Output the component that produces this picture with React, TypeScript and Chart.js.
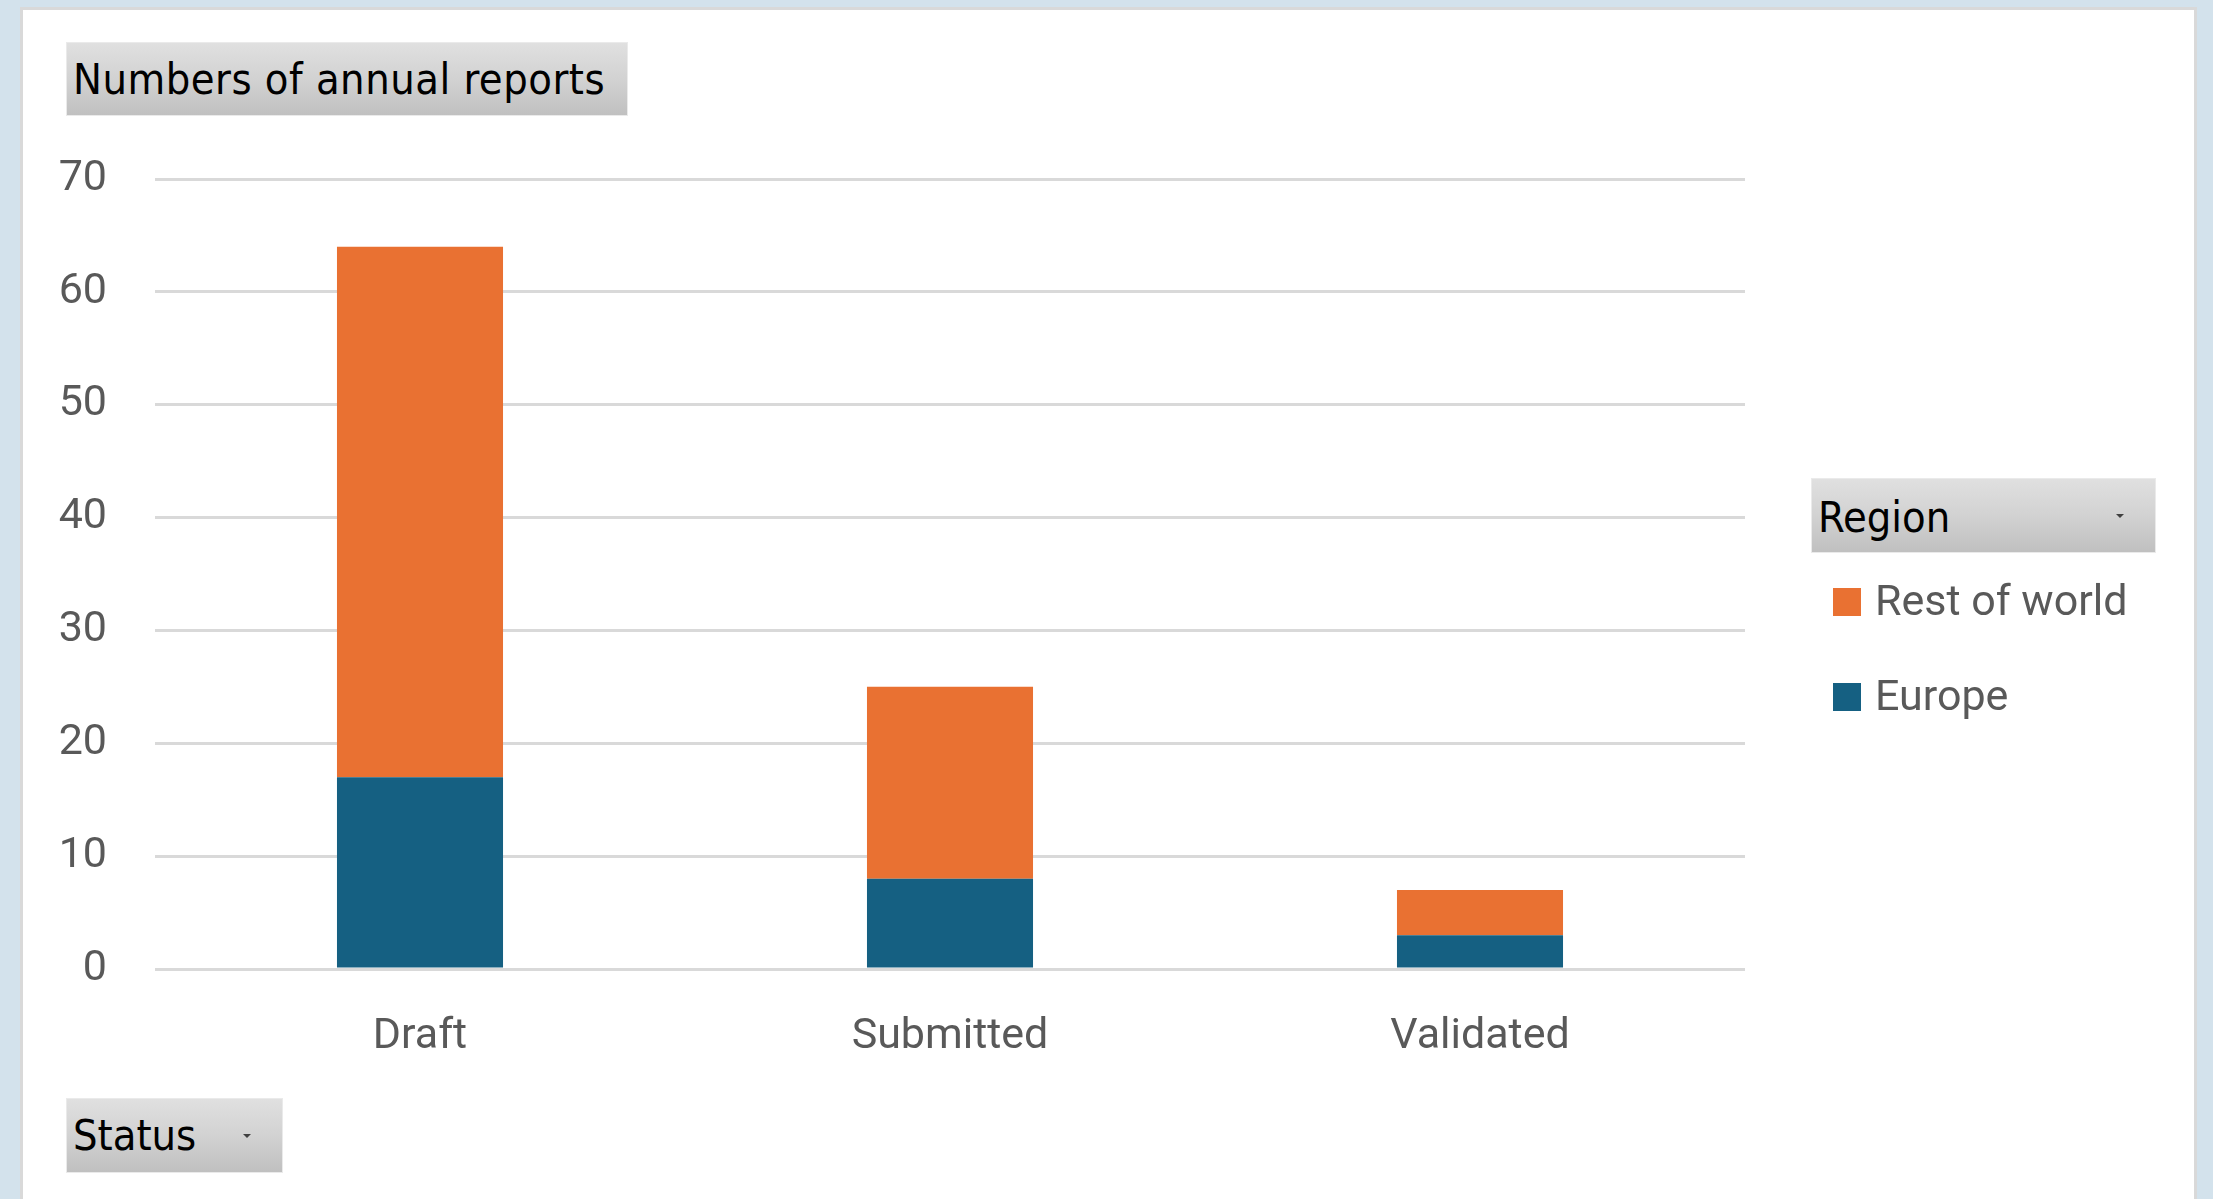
import React, { useEffect, useRef } from "react";
import { Chart, registerables } from "chart.js";

Chart.register(...registerables);

const categories = ["Draft", "Submitted", "Validated"];
const europeValues = [17, 8, 3];
const restOfWorldValues = [47, 17, 4];
const seriesNames = ["Europe", "Rest of world"];
const seriesColors = ["#156082", "#E97132"];
const yMin = 0;
const yMax = 70;
const yStep = 10;
const titleText = "Numbers of annual reports";
const legendTitle = "Region";
const axisFieldText = "Status";

const W = 2213;
const H = 1199;
const tickFont = { family: "Roboto", size: 43, lineHeight: 1.2 };
const btnFont = '"DejaVu Sans Condensed", "DejaVu Sans", sans-serif';

function Arrow({ x, y }: { x: number; y: number }) {
  return (
    <div
      style={{
        position: "absolute",
        left: x - 4,
        top: y - 2,
        width: 0,
        height: 0,
        borderLeft: "4px solid transparent",
        borderRight: "4px solid transparent",
        borderTop: "4px solid #404040",
      }}
    />
  );
}

function FieldButton({
  x,
  y,
  w,
  h,
  text,
  baseline,
  arrowX,
  arrowY,
  spacing,
}: {
  x: number;
  y: number;
  w: number;
  h: number;
  text: string;
  baseline: number;
  arrowX?: number;
  arrowY?: number;
  spacing?: number;
}) {
  return (
    <>
      <div
        style={{
          position: "absolute",
          left: x,
          top: y,
          width: w,
          height: h,
          boxSizing: "border-box",
          border: "1px solid #eaeaea",
          background: "linear-gradient(to bottom, #e0e0e0 0%, #d2d2d2 50%, #c0c0c0 100%)",
        }}
      />
      <div
        style={{
          position: "absolute",
          left: x + 7,
          top: baseline - 36.4,
          fontFamily: btnFont,
          fontSize: 43,
          lineHeight: "43px",
          letterSpacing: spacing ? `${spacing}px` : undefined,
          color: "#000000",
          whiteSpace: "nowrap",
        }}
      >
        {text}
      </div>
      {arrowX !== undefined && arrowY !== undefined ? <Arrow x={arrowX} y={arrowY} /> : null}
    </>
  );
}

export default function App() {
  const canvasRef = useRef<HTMLCanvasElement | null>(null);

  useEffect(() => {
    const canvas = canvasRef.current;
    if (!canvas) return;
    const chart = new Chart(canvas, {
      type: "bar",
      data: {
        labels: categories,
        datasets: [
          {
            label: seriesNames[0],
            data: europeValues,
            backgroundColor: seriesColors[0],
            borderWidth: 0,
            barPercentage: 1,
            categoryPercentage: 0.3133,
          },
          {
            label: seriesNames[1],
            data: restOfWorldValues,
            backgroundColor: seriesColors[1],
            borderWidth: 0,
            barPercentage: 1,
            categoryPercentage: 0.3133,
          },
        ],
      },
      options: {
        responsive: false,
        animation: false,
        devicePixelRatio: 1,
        layout: { padding: { left: 0, top: 179, right: 468, bottom: 130 } },
        plugins: {
          legend: { display: false },
          title: { display: false },
          tooltip: { enabled: false },
        },
        scales: {
          x: {
            stacked: true,
            grid: { display: false, drawTicks: false },
            border: { display: false },
            ticks: {
              font: tickFont,
              color: "#595959",
              padding: 42,
              maxRotation: 0,
            },
            afterFit: (scale: any) => {
              scale.height = 100;
            },
          },
          y: {
            stacked: true,
            min: yMin,
            max: yMax,
            grid: { color: "#d9d9d9", lineWidth: 3, drawTicks: false },
            border: { display: false },
            ticks: {
              stepSize: yStep,
              font: tickFont,
              color: "#595959",
              padding: 48,
            },
            afterFit: (scale: any) => {
              scale.width = 155;
            },
          },
        },
      },
    });
    return () => chart.destroy();
  }, []);

  const legendItems = [
    { name: seriesNames[1], color: seriesColors[1], baseline: 615 },
    { name: seriesNames[0], color: seriesColors[0], baseline: 710 },
  ];

  return (
    <div
      style={{
        position: "fixed",
        left: 0,
        top: 0,
        width: W,
        height: H,
        background: "#d3e2ec",
        overflow: "hidden",
      }}
    >
      <div
        style={{
          position: "absolute",
          left: 20,
          top: 7,
          width: 2177,
          height: 1260,
          boxSizing: "border-box",
          background: "#ffffff",
          border: "3px solid #d9d9d9",
        }}
      />
      <canvas
        ref={canvasRef}
        width={W}
        height={H}
        style={{ position: "absolute", left: 0, top: 0, width: W, height: H }}
      />
      <FieldButton x={66} y={42} w={562} h={74} text={titleText} baseline={94} spacing={0.5} />
      <FieldButton
        x={66}
        y={1098}
        w={217}
        h={75}
        text={axisFieldText}
        baseline={1150}
        arrowX={247}
        arrowY={1136}
      />
      <FieldButton
        x={1811}
        y={478}
        w={345}
        h={75}
        text={legendTitle}
        baseline={532}
        arrowX={2120}
        arrowY={516}
      />
      {legendItems.map((it) => (
        <React.Fragment key={it.name}>
          <div
            style={{
              position: "absolute",
              left: 1833,
              top: it.baseline - 27,
              width: 28,
              height: 28,
              background: it.color,
            }}
          />
          <div
            style={{
              position: "absolute",
              left: 1875,
              top: it.baseline - 36.2,
              fontFamily: "Roboto",
              fontSize: 43,
              lineHeight: "43px",
              color: "#595959",
              whiteSpace: "nowrap",
            }}
          >
            {it.name}
          </div>
        </React.Fragment>
      ))}
    </div>
  );
}
